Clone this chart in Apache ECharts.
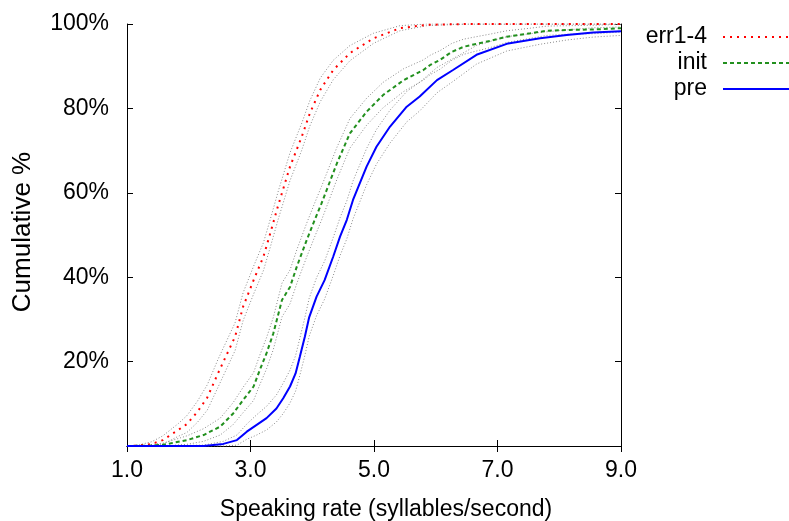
<!DOCTYPE html>
<html>
<head>
<meta charset="utf-8">
<script src="https://cdn.jsdelivr.net/npm/echarts@6/dist/echarts.min.js"></script>
<style>
html,body{margin:0;padding:0;background:#fff;}
#chart{width:789px;height:521px;}
</style>
</head>
<body>
<div id="chart"></div>
<script>
// ---- data ----
const seriesNames = ['err1-4', 'init', 'pre'];
const xTickLabels = ['1.0', '3.0', '5.0', '7.0', '9.0'];
const yTickLabels = ['', '20%', '40%', '60%', '80%', '100%'];

// err1-4
const errX  = [1.0, 1.2, 1.4, 1.58, 1.83, 1.97, 2.14, 2.30, 2.47, 2.60, 2.75, 2.88, 3.05, 3.21, 3.32, 3.45, 3.64, 3.83, 3.96, 4.13, 4.34, 4.61, 4.99, 5.42, 5.85, 6.5, 9.0];
const errY  = [0, 0.1, 0.5, 1.4, 3.8, 5.2, 8.1, 11.5, 17.1, 21.2, 25.9, 33.0, 39.3, 44.9, 50.4, 57.1, 66.2, 73.3, 78.8, 84.4, 89.1, 93.1, 96.6, 99.0, 99.8, 100, 100];
const errLo = [0, 0, 0, 0.4, 2.3, 3.2, 5.6, 8.5, 13.8, 17.9, 22.6, 29.7, 36.0, 41.6, 47.1, 53.8, 62.9, 70.1, 75.8, 81.6, 86.8, 91.3, 95.4, 98.4, 99.6, 100, 100];
const errHi = [0, 0.3, 1.0, 2.4, 5.3, 7.2, 10.6, 14.5, 20.4, 24.5, 29.2, 36.3, 42.6, 48.2, 53.7, 60.4, 69.5, 76.5, 81.8, 87.2, 91.4, 94.9, 97.8, 99.6, 100, 100, 100];

// init
const initX  = [1.0, 1.3, 1.59, 1.97, 2.24, 2.51, 2.72, 2.88, 3.05, 3.15, 3.26, 3.37, 3.51, 3.64, 3.75, 3.91, 4.04, 4.15, 4.40, 4.61, 4.88, 5.15, 5.48, 5.80, 5.91, 6.07, 6.26, 6.45, 6.66, 6.88, 7.15, 7.53, 7.80, 8.17, 8.55, 9.0];
const initY  = [0, 0.05, 0.3, 1.4, 2.6, 4.6, 7.7, 10.9, 14.1, 18.0, 22.0, 26.7, 34.6, 37.7, 42.5, 48.8, 53.6, 57.5, 67.0, 74.1, 79.2, 83.2, 86.7, 89.1, 90.3, 91.5, 93.4, 94.6, 95.3, 96.0, 97.0, 97.8, 98.4, 98.6, 98.7, 99.0];
const initLo = [0, 0, 0, 0.4, 1.1, 2.6, 5.1, 7.9, 10.8, 14.5, 18.3, 22.9, 30.6, 33.7, 38.5, 44.8, 49.6, 53.5, 63.2, 70.6, 76.0, 80.2, 84.0, 86.7, 88.0, 89.3, 91.4, 92.8, 93.6, 94.4, 95.6, 96.6, 97.3, 97.6, 97.7, 98.1];
const initHi = [0, 0.15, 0.7, 2.4, 4.1, 6.6, 10.3, 13.9, 17.4, 21.5, 25.7, 30.5, 38.6, 41.7, 46.5, 52.8, 57.6, 61.5, 70.8, 77.6, 82.4, 86.2, 89.4, 91.5, 92.6, 93.7, 95.4, 96.4, 97.0, 97.6, 98.4, 99.0, 99.5, 99.6, 99.7, 99.9];

// pre
const preX  = [1.0, 2.24, 2.56, 2.78, 2.94, 3.10, 3.26, 3.42, 3.53, 3.64, 3.73, 3.80, 3.88, 3.95, 4.07, 4.20, 4.34, 4.45, 4.56, 4.66, 4.88, 5.04, 5.26, 5.53, 5.74, 6.02, 6.28, 6.66, 7.15, 7.69, 8.12, 8.55, 9.0];
const preY  = [0, 0, 0.5, 1.4, 3.4, 5.0, 6.6, 8.9, 11.3, 14.1, 17.2, 21.2, 25.9, 30.5, 35.4, 39.3, 44.9, 49.6, 53.6, 58.3, 66.2, 70.9, 75.7, 80.4, 82.8, 86.7, 89.1, 92.7, 95.3, 96.6, 97.4, 98.0, 98.3];
const preLo = [0, 0, 0, 0.2, 1.6, 2.6, 3.8, 5.7, 7.7, 10.2, 13.0, 16.8, 21.4, 26.0, 30.9, 34.8, 40.4, 45.1, 49.1, 53.8, 61.9, 66.8, 71.8, 76.8, 79.4, 83.7, 86.4, 90.5, 93.6, 95.2, 96.2, 96.9, 97.3];
const preHi = [0, 0.2, 1.1, 2.6, 5.2, 7.4, 9.4, 12.1, 14.9, 18.0, 21.4, 25.6, 30.4, 35.0, 39.9, 43.8, 49.4, 54.1, 58.1, 62.8, 70.5, 75.0, 79.6, 84.0, 86.2, 89.7, 91.8, 94.9, 97.0, 98.0, 98.6, 99.1, 99.3];

// ---- build ----
const pairs = (xs, ys) => xs.map((x, i) => [x, ys[i]]);
const FONT = 'Liberation Sans';
const FS = 23;

function band(xs, ys) {
  return {
    type: 'line', data: pairs(xs, ys), showSymbol: false, symbol: 'none',
    silent: true, z: 1,
    lineStyle: { color: '#8a8a8a', width: 1, type: [1, 2] },
    animation: false
  };
}
function main(name, xs, ys, color, type, width) {
  return {
    name, type: 'line', data: pairs(xs, ys), showSymbol: false, symbol: 'none',
    z: 3, lineStyle: { color, width, type }, itemStyle: { color },
    animation: false
  };
}

const tickFmtX = v => { const i = [1, 3, 5, 7, 9].indexOf(v); return i >= 0 ? xTickLabels[i] : ''; };
const tickFmtY = v => { const i = [0, 20, 40, 60, 80, 100].indexOf(v); return i >= 0 ? yTickLabels[i] : ''; };

const axisLine = { show: true, lineStyle: { color: '#000', width: 1 } };
const tick = { show: true, inside: true, length: 6, lineStyle: { color: '#000', width: 1 } };

const chart = echarts.init(document.getElementById('chart'), null, { renderer: 'canvas' });
chart.setOption({
  animation: false,
  backgroundColor: '#fff',
  textStyle: { fontFamily: FONT },
  grid: { left: 127, right: 168, top: 24, bottom: 75, containLabel: false, outerBoundsMode: 'none' },
  legend: {
    data: seriesNames,
    orient: 'vertical',
    left: 617, top: 24,
    padding: 0,
    align: 'right',
    itemWidth: 66, itemHeight: 14, itemGap: 0,
    itemStyle: { color: 'transparent', borderColor: 'transparent', borderWidth: 0, opacity: 0 },
    textStyle: { fontFamily: FONT, fontSize: FS, color: '#000', width: 90, align: 'right', lineHeight: 26, padding: [0, 11, 0, 0] },
    selectedMode: false
  },
  xAxis: [
    {
      type: 'value', min: 1, max: 9, interval: 2, position: 'bottom',
      axisLine, axisTick: tick, splitLine: { show: false },
      axisLabel: { formatter: tickFmtX, color: '#000', fontFamily: FONT, fontSize: FS, margin: 13 },
      name: 'Speaking rate (syllables/second)', nameLocation: 'middle', nameGap: 52,
      nameTextStyle: { color: '#000', fontFamily: FONT, fontSize: FS, padding: [0, 0, 0, 24] }
    },
    {
      type: 'value', min: 1, max: 9, interval: 2, position: 'top',
      axisLine, axisTick: tick, splitLine: { show: false }, axisLabel: { show: false }
    }
  ],
  yAxis: [
    {
      type: 'value', min: 0, max: 100, interval: 20, position: 'left',
      axisLine, axisTick: tick, splitLine: { show: false },
      axisLabel: { formatter: tickFmtY, color: '#000', fontFamily: FONT, fontSize: FS, margin: 18 },
      name: 'Cumulative %', nameLocation: 'middle', nameGap: 91,
      nameTextStyle: { color: '#000', fontFamily: FONT, fontSize: 26, padding: [0, 0, 0, 6] }
    },
    {
      type: 'value', min: 0, max: 100, interval: 20, position: 'right',
      axisLine, axisTick: tick, splitLine: { show: false }, axisLabel: { show: false }
    }
  ],
  series: [
    band(errX, errLo), band(errX, errHi),
    band(initX, initLo), band(initX, initHi),
    band(preX, preLo), band(preX, preHi),
    main(seriesNames[0], errX, errY, '#ff0000', [2, 5], 2),
    main(seriesNames[1], initX, initY, '#22901e', [4, 3], 2),
    main(seriesNames[2], preX, preY, '#0000ff', 'solid', 2)
  ]
});
</script>
</body>
</html>
